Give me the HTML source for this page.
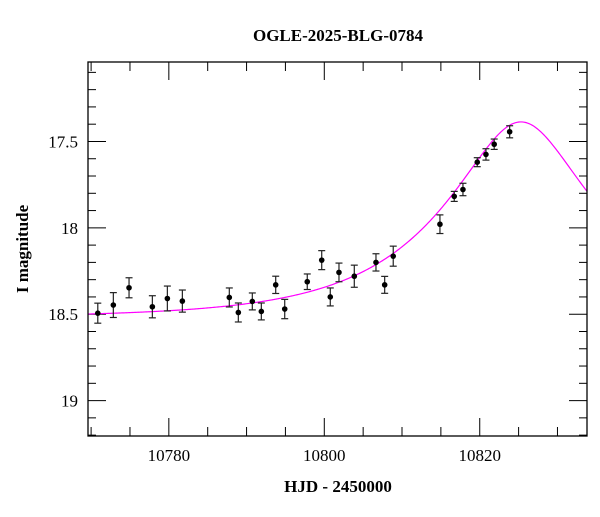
<!DOCTYPE html>
<html><head><meta charset="utf-8"><style>
body{margin:0;background:#fff}
svg text{font-family:"Liberation Serif",serif;fill:#000}
</style></head><body>
<svg id="chart" width="600" height="512" xmlns="http://www.w3.org/2000/svg">
<text x="338" y="41" text-anchor="middle" font-size="17" font-weight="bold">OGLE-2025-BLG-0784</text>
<text x="338" y="492" text-anchor="middle" font-size="17" font-weight="bold">HJD - 2450000</text>
<text transform="translate(28,249) rotate(-90)" text-anchor="middle" font-size="17" font-weight="bold">I magnitude</text>
<g id="ticks"></g>
<g id="model"></g>
<g id="points"></g>
<rect x="88" y="62" width="499" height="374" fill="none" stroke="#000" stroke-width="1.3"/>
</svg>
<script>
const times=[10770.86,10772.86,10774.88,10777.88,10779.81,10781.74,10787.78,10788.94,10790.74,10791.90,10793.75,10794.91,10797.81,10799.67,10800.77,10801.89,10803.86,10806.65,10807.77,10808.87,10814.88,10816.72,10817.84,10819.68,10820.80,10821.86,10823.85];
const mags=[18.494,18.447,18.347,18.457,18.409,18.424,18.403,18.490,18.426,18.484,18.330,18.470,18.312,18.187,18.400,18.258,18.280,18.200,18.330,18.164,17.979,17.818,17.778,17.620,17.575,17.516,17.444];
const errs=[0.058,0.072,0.058,0.064,0.072,0.064,0.055,0.055,0.049,0.049,0.05,0.056,0.045,0.055,0.052,0.054,0.064,0.05,0.049,0.058,0.054,0.029,0.036,0.026,0.033,0.030,0.035];
const modelParams=[10825.3,0.37,19.6,18.52]; // t0,u0,tE,baseline
const xTickLabels=[10780,10800,10820];
const yTickLabels=[17.5,18,18.5,19];
const NS="http://www.w3.org/2000/svg";
const X0=88,X1=587,Y0=62,Y1=436;
const xMin=10769.6,xMax=10833.8,yMin=17.04,yMax=19.205;
const sx=t=>X0+(t-xMin)/(xMax-xMin)*(X1-X0);
const sy=m=>Y0+(m-yMin)/(yMax-yMin)*(Y1-Y0);
function mk(tag,attrs,parent){const e=document.createElementNS(NS,tag);for(const k in attrs)e.setAttribute(k,attrs[k]);parent.appendChild(e);return e;}
const tg=document.getElementById('ticks');
for(let t=10770;t<=10833;t+=5){const x=sx(t);if(x<X0)continue;const maj=t%20===0;const L=maj?18:9;
 const a=mk('line',{x1:x,x2:x,y1:Y1,y2:Y1-L,stroke:'#000','stroke-width':1},tg);
 
 const b=mk('line',{x1:x,x2:x,y1:Y0,y2:Y0+L,stroke:'#000','stroke-width':1},tg);
 }
xTickLabels.forEach(v=>{const e=mk('text',{x:sx(v),y:461,'text-anchor':'middle','font-size':17},tg);e.textContent=v;
 });
for(let i=171;i<=192;i++){const m=i/10;const y=sy(m);if(y>Y1)continue;const maj=i%5===0;const L=maj?18:8;
 const a=mk('line',{x1:X0,x2:X0+L,y1:y,y2:y,stroke:'#000','stroke-width':1},tg);
 
 const b=mk('line',{x1:X1,x2:X1-L,y1:y,y2:y,stroke:'#000','stroke-width':1},tg);
 }
yTickLabels.forEach(v=>{const e=mk('text',{x:78,y:sy(v)+6,'text-anchor':'end','font-size':17},tg);e.textContent=v;
 });
const [t0,u0,tE,I0]=modelParams;
let d='';
for(let i=0;i<=500;i++){const t=xMin+(xMax-xMin)*i/500;const tau=(t-t0)/tE;const u=Math.sqrt(u0*u0+tau*tau);
 const A=(u*u+2)/(u*Math.sqrt(u*u+4));const m=I0-2.5*Math.log10(A);d+=(i?'L':'M')+sx(t).toFixed(2)+','+sy(m).toFixed(2);}
const mp=mk('path',{d:d,fill:'none',stroke:'#ff00ff','stroke-width':1.2},document.getElementById('model'));


const pg=document.getElementById('points');
times.forEach((t,i)=>{const x=sx(t),y=sy(mags[i]),ya=sy(mags[i]-errs[i]),yb=sy(mags[i]+errs[i]);
 const g=mk('g',{},pg);
 
 
 mk('line',{x1:x,x2:x,y1:ya,y2:yb,stroke:'#222','stroke-width':1.2},g);
 mk('line',{x1:x-3.5,x2:x+3.5,y1:ya,y2:ya,stroke:'#222','stroke-width':1.2},g);
 mk('line',{x1:x-3.5,x2:x+3.5,y1:yb,y2:yb,stroke:'#222','stroke-width':1.2},g);
 mk('circle',{cx:x,cy:y,r:2.8,fill:'#000'},g);});
</script>
</body></html>
